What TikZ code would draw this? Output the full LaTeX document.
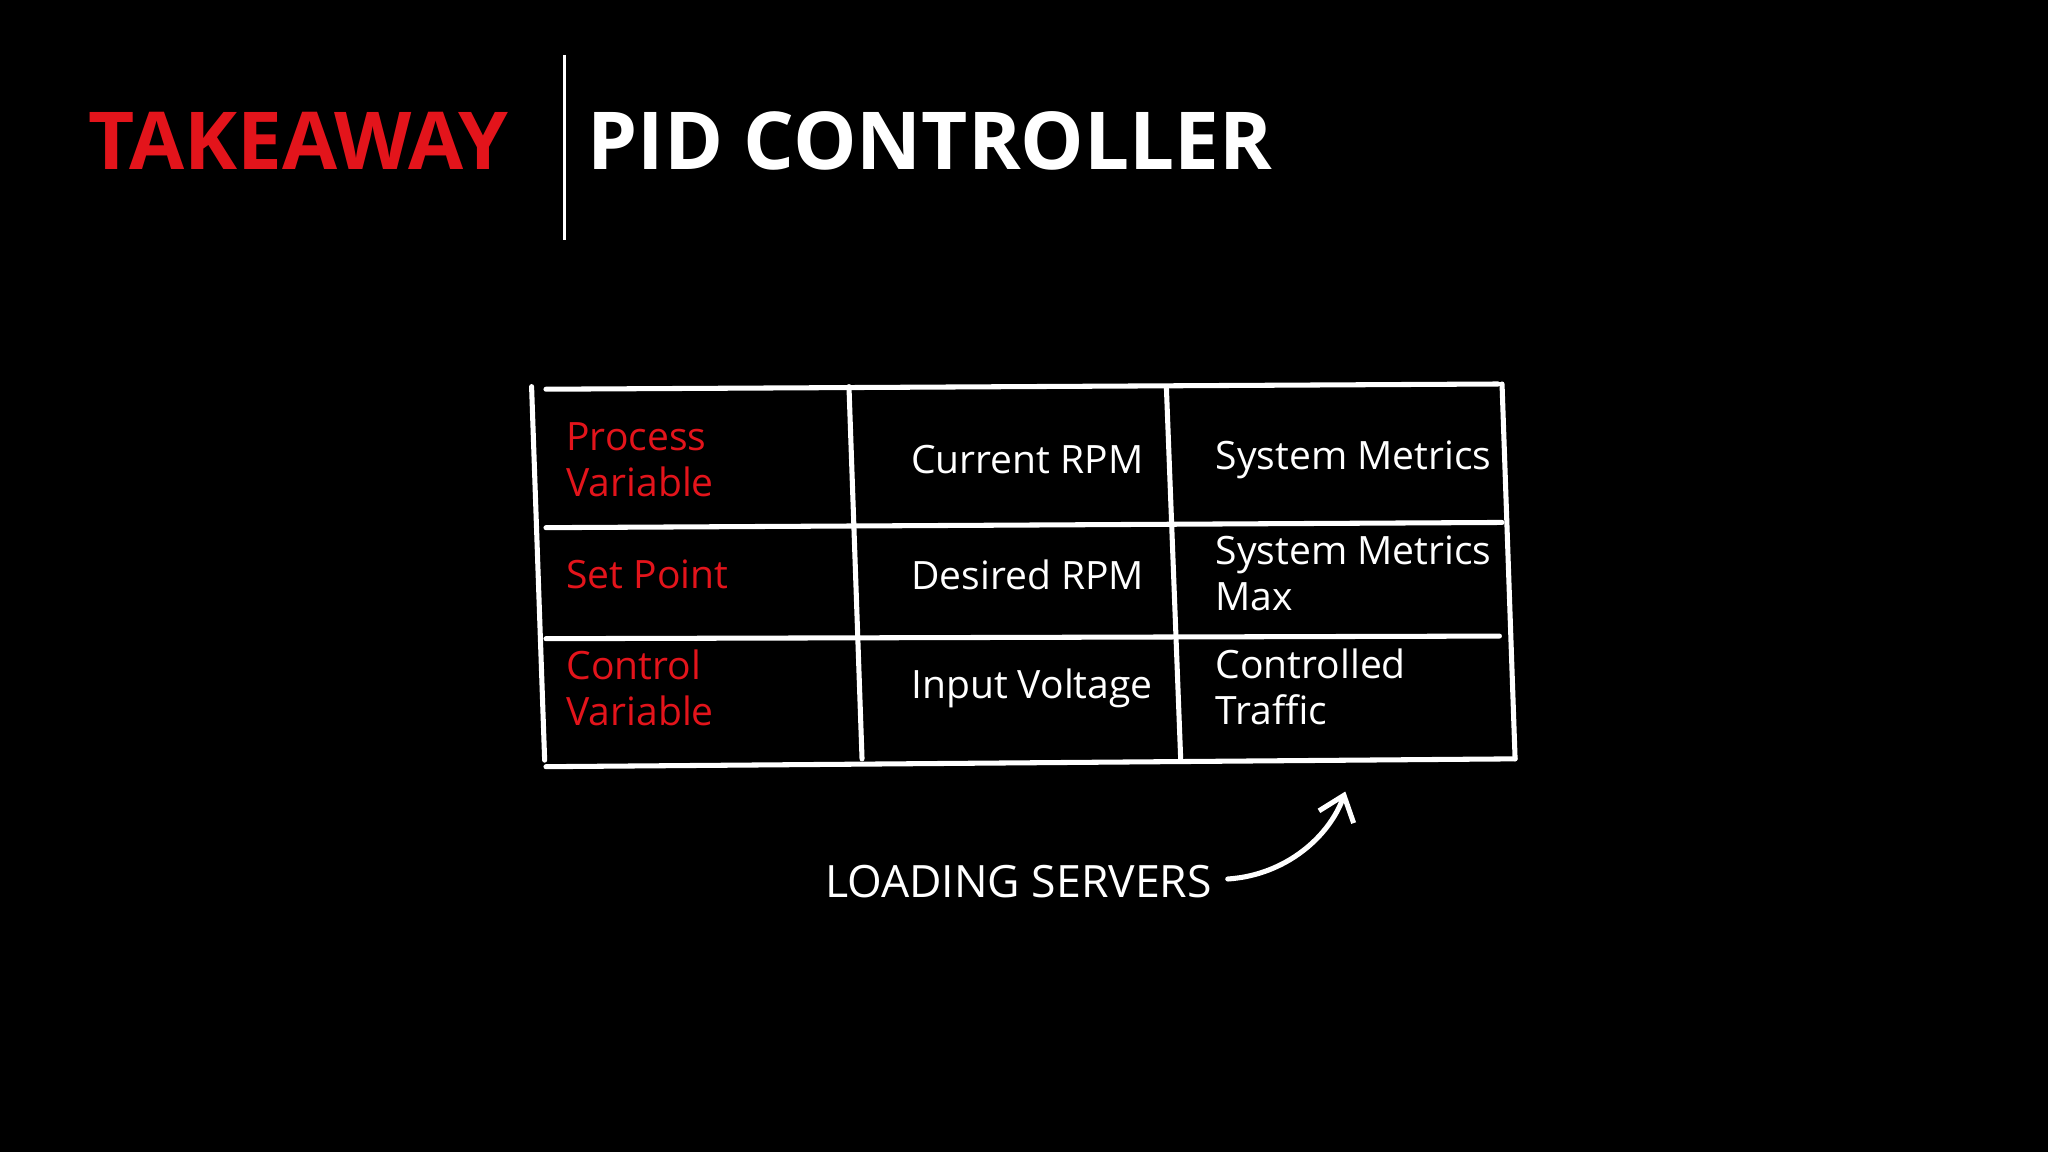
\documentclass[tikz,border=0pt]{standalone}
\usepackage{fontspec}
\setmainfont{Open Sans}
\usetikzlibrary{arrows.meta}
\definecolor{tred}{HTML}{E3141B}
\begin{document}
\begin{tikzpicture}[x=0.01cm,y=-0.01cm,
  tl/.style={line width=1.1pt,white,line cap=round},
  cell/.style={anchor=west,font=\fontsize{8.5pt}{10pt}\selectfont,align=left,inner sep=0pt},
  red/.style={text=tred},
  wht/.style={text=white}]
\fill[black] (0,0) rectangle (1568,882);
\useasboundingbox (0,0) rectangle (1568,882);
\node[anchor=west,inner sep=0pt,text=tred,font=\fontsize{17.4pt}{20pt}\selectfont\bfseries] (tk) at (67,108) {TAKEAWAY};
\draw[white,line width=0.6pt] (432,42) -- (432,184);
\node[anchor=west,inner sep=0pt,text=white,font=\fontsize{17.4pt}{20pt}\selectfont\bfseries] (pid) at (449,108) {PID CONTROLLER};
% table
\draw[tl] (418,298) -- (1147,294);
\draw[tl] (407,296) -- (417,582);
\draw[tl] (418,404) -- (1150,400);
\draw[tl] (418,489) -- (1148,487);
\draw[tl] (418,587) -- (1160,581);
\draw[tl] (650,296) -- (660,581);
\draw[tl] (893,296) -- (904,582);
\draw[tl] (1150,294) -- (1160,581);
\node[cell,red] (pv) at (433,352) {Process\\Variable};
\node[cell,red] (sp) at (433,440) {Set Point};
\node[cell,red] (cv) at (433,527) {Control\\Variable};
\node[cell,wht] (c1) at (697,352) {Current RPM};
\node[cell,wht] (c2) at (697,440) {Desired RPM};
\node[cell,wht] (c3) at (697,527) {Input Voltage};
\node[cell,wht] (d1) at (930,352) {System Metrics};
\node[cell,wht] (d2) at (930,439) {System Metrics\\Max};
\node[cell,wht] (d3) at (930,526) {Controlled\\Traffic};
\node[anchor=west,inner sep=0pt,text=white,font=\fontsize{9.7pt}{12pt}\selectfont] (ld) at (631,675) {LOADING SERVERS};
\coordinate (st) at (940,673);
\coordinate (tip) at (1030,606);
\draw[white,line width=1.1pt,line cap=round,-{Straight Barb[length=5pt,width=8pt]}] (st) .. controls (985,670) and (1018,640) .. (tip);
\end{tikzpicture}
\end{document}
